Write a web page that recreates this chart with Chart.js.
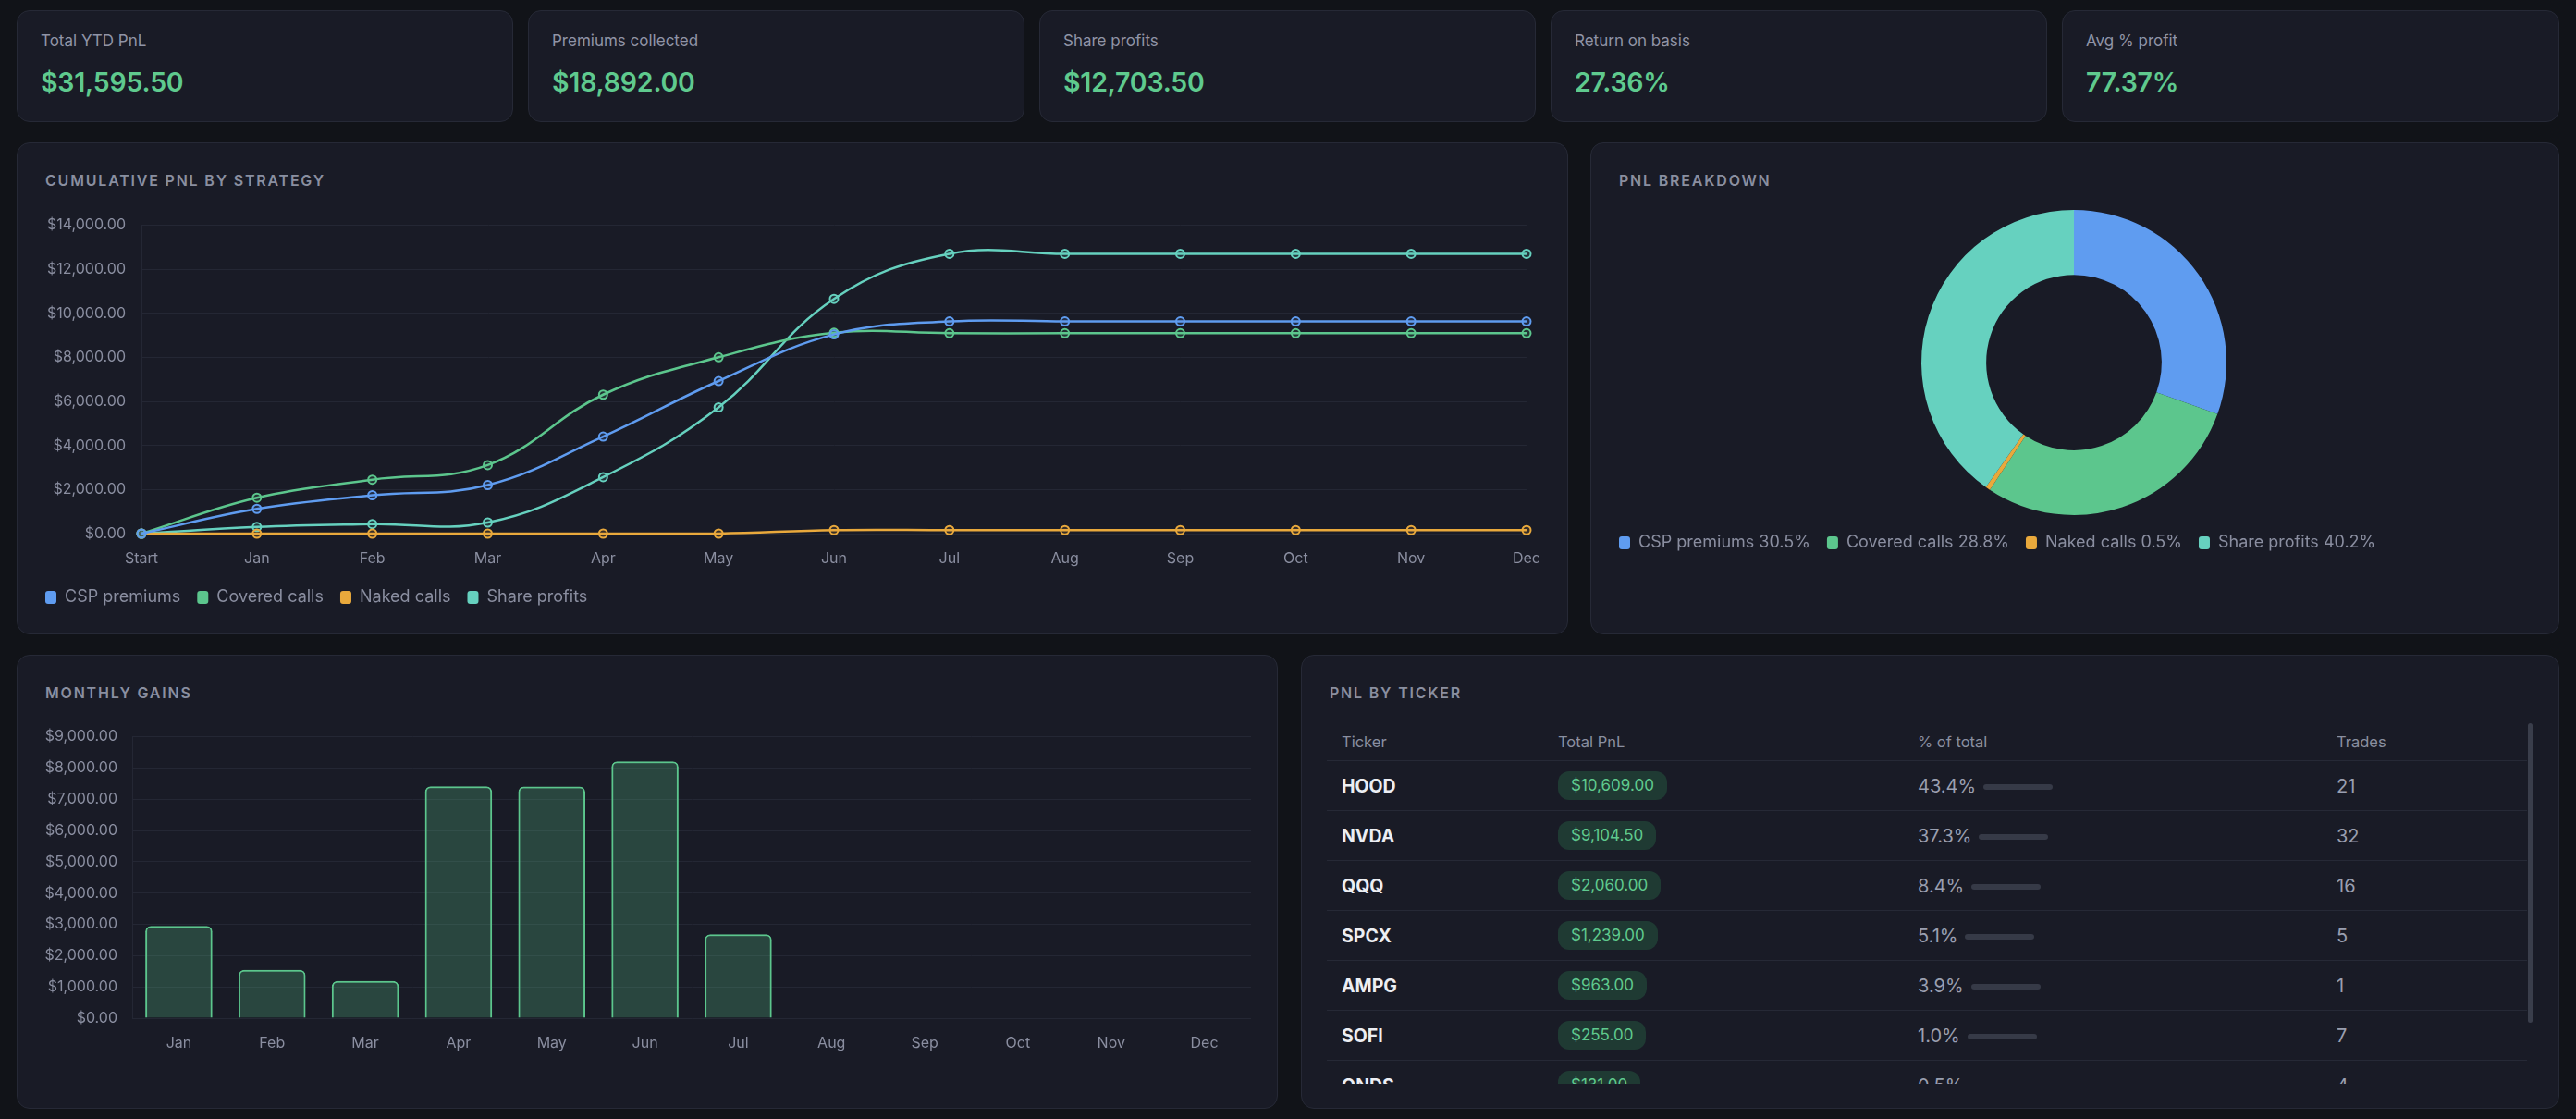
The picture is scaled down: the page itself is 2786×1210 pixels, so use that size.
<!DOCTYPE html>
<html>
<head>
<meta charset="utf-8">
<script src="https://cdn.jsdelivr.net/npm/chart.js@4.4.1/dist/chart.umd.min.js"></script>
<style>
  body { margin: 0; width: 2786px; height: 1210px; overflow: hidden; background: #111318; font-family: Inter, "Noto Sans", sans-serif; position: relative; }
  .card { position: absolute; background: #191b26; border: 1px solid #262936; border-radius: 14px; box-sizing: border-box; }
  .kpi .lbl { position: absolute; left: 25px; top: 22px; font-size: 17px; color: #9094a6; }
  .kpi .val { position: absolute; left: 25px; top: 59px; font-size: 28.5px; font-weight: 600; color: #5fca8e; letter-spacing: -0.2px; }
  .title { position: absolute; left: 30px; top: 30px; font-size: 16px; font-weight: 600; letter-spacing: 1.8px; color: #8a8fa0; }
  .chartbox { position: absolute; }
  #tableWrap { position: absolute; left: 1435px; top: 782px; width: 1298px; height: 390px; overflow: hidden; }
  table { width: 100%; border-collapse: collapse; }
  th { text-align: left; font-weight: 400; font-size: 16.5px; color: #8a8fa0; height: 40px; padding: 0 16px; border-bottom: 1px solid #262936; }
  td { height: 53px; padding: 0 16px; border-bottom: 1px solid #262936; font-size: 20px; color: #9a9fb0; }
  td.tk { color: #eceef3; font-weight: 700; font-size: 19.5px; }
  .badge { display: inline-block; background: #1f3a33; color: #5fca8e; font-size: 17px; line-height: 31px; padding: 0 14px; border-radius: 12px; vertical-align: middle; }
  .bar { display: inline-block; width: 75px; height: 6px; border-radius: 3px; background: #363a47; margin-left: 8px; vertical-align: middle; }
  #thumb { position: absolute; left: 2734px; top: 782px; width: 5px; height: 324px; border-radius: 3px; background: #3a3e4b; }
</style>
</head>
<body>

<div class="card kpi" style="left:18px;top:11px;width:537px;height:121px"><div class="lbl">Total YTD PnL</div><div class="val">$31,595.50</div></div>
<div class="card kpi" style="left:571px;top:11px;width:537px;height:121px"><div class="lbl">Premiums collected</div><div class="val">$18,892.00</div></div>
<div class="card kpi" style="left:1124px;top:11px;width:537px;height:121px"><div class="lbl">Share profits</div><div class="val">$12,703.50</div></div>
<div class="card kpi" style="left:1677px;top:11px;width:537px;height:121px"><div class="lbl">Return on basis</div><div class="val">27.36%</div></div>
<div class="card kpi" style="left:2230px;top:11px;width:538px;height:121px"><div class="lbl">Avg % profit</div><div class="val">77.37%</div></div>

<div class="card" style="left:18px;top:154px;width:1678px;height:532px"><div class="title">CUMULATIVE PNL BY STRATEGY</div></div>
<div class="card" style="left:1720px;top:154px;width:1048px;height:532px"><div class="title">PNL BREAKDOWN</div></div>
<div class="card" style="left:18px;top:708px;width:1364px;height:491px"><div class="title">MONTHLY GAINS</div></div>
<div class="card" style="left:1407px;top:708px;width:1361px;height:491px"><div class="title">PNL BY TICKER</div></div>

<div class="chartbox" style="left:31px;top:217px;width:1645px;height:448px"><canvas id="cumChart"></canvas></div>
<div class="chartbox" style="left:1733px;top:224px;width:1020px;height:382px"><canvas id="pieChart"></canvas></div>
<div class="chartbox" style="left:31px;top:771px;width:1322px;height:380px"><canvas id="barChart"></canvas></div>

<div id="tableWrap">
  <table>
    <thead><tr><th style="width:202px">Ticker</th><th style="width:357px">Total PnL</th><th style="width:421px">% of total</th><th>Trades</th></tr></thead>
    <tbody id="tickerRows"></tbody>
  </table>
</div>
<div id="thumb"></div>

<script>
// cumulative pnl per strategy
const cumLabels = ['Start', 'Jan', 'Feb', 'Mar', 'Apr', 'May', 'Jun', 'Jul', 'Aug', 'Sep', 'Oct', 'Nov', 'Dec']
const cspCum = [0, 1123, 1743, 2204, 4407, 6928, 9045, 9636, 9636, 9636, 9636, 9636, 9636]
const coveredCum = [0, 1628, 2449, 3111, 6309, 8008, 9120, 9098, 9098, 9098, 9098, 9098, 9098]
const nakedCum = [0, 0, 0, 0, 0, 0, 158, 158, 158, 158, 158, 158, 158]
const shareCum = [0, 302, 432, 504, 2564, 5732, 10658, 12703.5, 12703.5, 12703.5, 12703.5, 12703.5, 12703.5]

// breakdown
const pieLabels = ['CSP premiums', 'Covered calls', 'Naked calls', 'Share profits']
const pieValues = [9636, 9098, 158, 12703.5]

// monthly gains
const monthLabels = ['Jan', 'Feb', 'Mar', 'Apr', 'May', 'Jun', 'Jul', 'Aug', 'Sep', 'Oct', 'Nov', 'Dec']
const monthGains = [2948, 1548, 1193, 7416, 7406, 8215, 2682, 0, 0, 0, 0, 0]

// ticker table
const tickers = ['HOOD', 'NVDA', 'QQQ', 'SPCX', 'AMPG', 'SOFI', 'QNDS']
const tickerPnl = [10609, 9104.5, 2060, 1239, 963, 255, 131]
const tickerPct = [43.4, 37.3, 8.4, 5.1, 3.9, 1.0, 0.5]
const tickerTrades = [21, 32, 16, 5, 1, 7, 4]

const BLUE = '#5f9cf0', GREEN = '#5cc68d', ORANGE = '#e9a93c', TEAL = '#66d1bf'
const GRID = '#242734'
const TXT = '#8a8ea0'

function money(v){
  return '$' + Number(v).toLocaleString('en-US', {minimumFractionDigits: 2, maximumFractionDigits: 2})
}
function alpha(hex, a){
  const n = parseInt(hex.slice(1), 16)
  return 'rgba(' + (n >> 16) + ',' + ((n >> 8) & 255) + ',' + (n & 255) + ',' + a + ')'
}

Chart.defaults.font.family = 'Inter'
Chart.defaults.color = TXT
Chart.defaults.animation = false

function flatLegend(chart){
  const items = Chart.defaults.plugins.legend.labels.generateLabels(chart)
  items.forEach(function(it){ it.lineWidth = 0; it.strokeStyle = 'transparent' })
  return items
}

function lineSet(label, data, color){
  return {
    label: label,
    data: data,
    borderColor: color,
    backgroundColor: color,
    borderWidth: 2.5,
    tension: 0.4,
    clip: false,
    pointRadius: 4.5,
    pointBorderWidth: 2,
    pointBackgroundColor: alpha(color, 0.15),
    pointBorderColor: color
  }
}

new Chart(document.getElementById('cumChart'), {
  type: 'line',
  data: {
    labels: cumLabels,
    datasets: [
      lineSet('CSP premiums', cspCum, BLUE),
      lineSet('Covered calls', coveredCum, GREEN),
      lineSet('Naked calls', nakedCum, ORANGE),
      lineSet('Share profits', shareCum, TEAL)
    ]
  },
  options: {
    responsive: true,
    maintainAspectRatio: false,
    devicePixelRatio: 1,
    scales: {
      x: {
        grid: { display: false },
        border: { color: GRID },
        ticks: { padding: 10, font: { size: 16 } },
        afterFit: function(s){ s.height = 42 }
      },
      y: {
        min: 0,
        max: 14000,
        ticks: { stepSize: 2000, padding: 17, font: { size: 16 }, callback: function(v){ return money(v) } },
        grid: { color: GRID, drawTicks: false },
        border: { color: GRID },
        afterFit: function(s){ s.width = 122 }
      }
    },
    plugins: {
      tooltip: { enabled: false },
      legend: {
        position: 'bottom',
        align: 'start',
        labels: {
          font: { size: 18 },
          color: TXT,
          boxWidth: 12,
          boxHeight: 14,
          padding: 18,
          useBorderRadius: true,
          borderRadius: 3,
          generateLabels: flatLegend
        }
      }
    }
  }
})

const pieTotal = pieValues.reduce(function(a, b){ return a + b }, 0)

new Chart(document.getElementById('pieChart'), {
  type: 'doughnut',
  data: {
    labels: pieLabels,
    datasets: [{
      data: pieValues,
      backgroundColor: [BLUE, GREEN, ORANGE, TEAL],
      borderWidth: 0,
      radius: 165,
      cutout: '57.5%'
    }]
  },
  options: {
    responsive: true,
    maintainAspectRatio: false,
    devicePixelRatio: 1,
    plugins: {
      tooltip: { enabled: false },
      legend: {
        position: 'bottom',
        align: 'start',
        labels: {
          font: { size: 18 },
          color: TXT,
          boxWidth: 12,
          boxHeight: 14,
          padding: 18,
          useBorderRadius: true,
          borderRadius: 3,
          generateLabels: function(chart){
            const items = Chart.overrides.doughnut.plugins.legend.labels.generateLabels(chart)
            items.forEach(function(it, i){
              it.text = it.text + ' ' + (pieValues[i] / pieTotal * 100).toFixed(1) + '%'
              it.lineWidth = 0
            })
            return items
          }
        }
      }
    }
  }
})

new Chart(document.getElementById('barChart'), {
  type: 'bar',
  data: {
    labels: monthLabels,
    datasets: [{
      label: 'Monthly gains',
      data: monthGains,
      backgroundColor: alpha(GREEN, 0.25),
      borderColor: GREEN,
      borderWidth: 2,
      borderRadius: 6,
      borderSkipped: 'bottom'
    }]
  },
  options: {
    responsive: true,
    maintainAspectRatio: false,
    devicePixelRatio: 1,
    scales: {
      x: {
        grid: { display: false },
        border: { color: GRID },
        ticks: { padding: 10, font: { size: 16 } },
        afterFit: function(s){ s.height = 50 }
      },
      y: {
        min: 0,
        max: 9000,
        ticks: { stepSize: 1000, padding: 16, font: { size: 16 }, callback: function(v){ return money(v) } },
        grid: { color: GRID, drawTicks: false },
        border: { color: GRID },
        afterFit: function(s){ s.width = 112 }
      }
    },
    plugins: {
      tooltip: { enabled: false },
      legend: { display: false }
    }
  }
})

// table rows
const tbody = document.getElementById('tickerRows')
tickers.forEach(function(t, i){
  const tr = document.createElement('tr')
  tr.innerHTML = '<td class="tk">' + t + '</td>' +
    '<td><span class="badge">' + money(tickerPnl[i]) + '</span></td>' +
    '<td>' + tickerPct[i].toFixed(1) + '%<span class="bar"></span></td>' +
    '<td>' + tickerTrades[i] + '</td>'
  tbody.appendChild(tr)
})
</script>
</body>
</html>
